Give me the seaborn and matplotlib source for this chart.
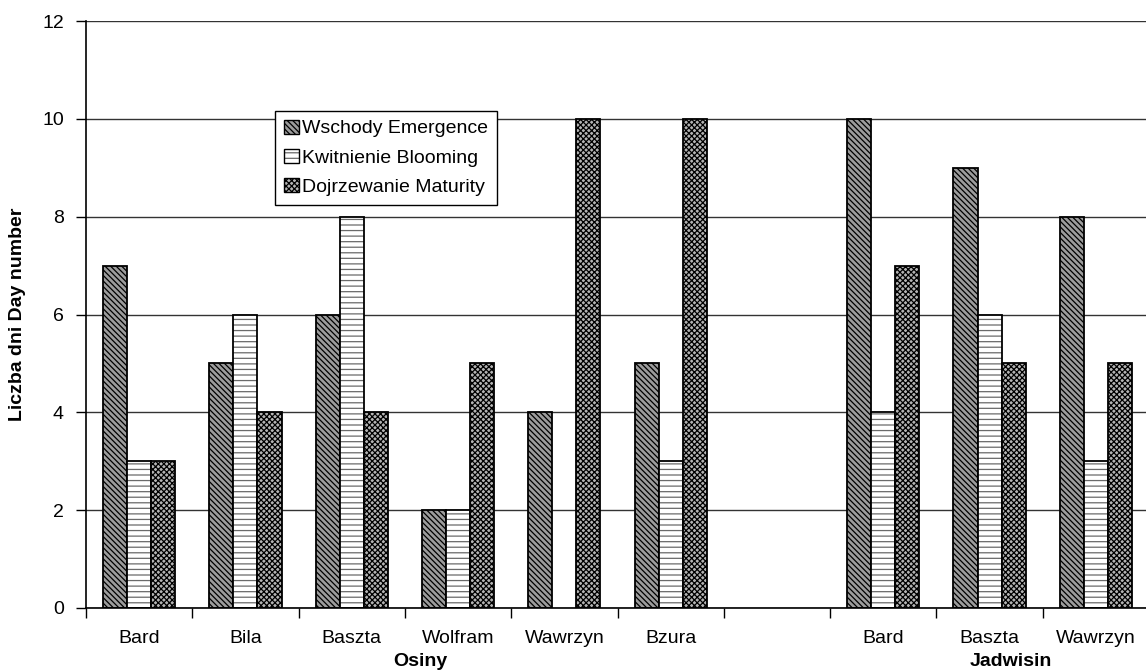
import matplotlib
matplotlib.use("Agg")
import matplotlib.pyplot as plt
import matplotlib.colors as mcolors
from matplotlib.patches import Patch
from matplotlib.ticker import FixedLocator, NullFormatter
import seaborn as sns
import pandas as pd
import numpy as np

# Cultivars per location; the empty slot separates the two locations
site_keys = ["O-Bard", "O-Bila", "O-Baszta", "O-Wolfram", "O-Wawrzyn", "O-Bzura",
             "gap", "J-Bard", "J-Baszta", "J-Wawrzyn"]
site_labels = ["Bard", "Bila", "Baszta", "Wolfram", "Wawrzyn", "Bzura",
               "", "Bard", "Baszta", "Wawrzyn"]
phases = ["Wschody Emergence", "Kwitnienie Blooming", "Dojrzewanie Maturity"]

# Day numbers per phase (None = no value)
emergence = [7, 5, 6, 2, 4, 5, None, 10, 9, 8]
blooming = [3, 6, 8, 2, None, 3, None, 4, 6, 3]
maturity = [3, 4, 4, 5, 10, 10, None, 7, 5, 5]

groups = ["Osiny", "Jadwisin"]
group_x = [2.65, 8.2]

rows = []
for ph, vals in zip(phases, [emergence, blooming, maturity]):
    for key, v in zip(site_keys, vals):
        if v is not None:
            rows.append({"site": key, "phase": ph, "days": v})
df = pd.DataFrame(rows)

sns.set_theme(style="white")
plt.rcParams["font.family"] = ["Liberation Sans", "DejaVu Sans"]
plt.rcParams["hatch.linewidth"] = 0.9
plt.rcParams["text.color"] = "black"
plt.rcParams["xtick.color"] = "black"
plt.rcParams["ytick.color"] = "black"
plt.rcParams["axes.labelcolor"] = "black"

FS = 14

fig = plt.figure(figsize=(11.46, 6.71), dpi=100)
ax = fig.add_axes([86 / 1146, 63 / 671, 1063 / 1146, 587 / 671])

ax.set_axisbelow(True)
ax.yaxis.grid(True, color="#333333", linewidth=1.0)

sns.barplot(data=df, x="site", y="days", hue="phase", order=site_keys,
            hue_order=phases, width=0.68, ax=ax, legend=False,
            edgecolor="black", linewidth=1.3, saturation=1)

styles = [
    {"facecolor": "#9c9c9c", "hatch": "\\\\\\\\\\\\", "hcolor": "black"},
    {"facecolor": "white", "hatch": "---", "hcolor": "#6a6a6a"},
    {"facecolor": "#b4b4b4", "hatch": "xxxxxx", "hcolor": "black"},
]


def style_patch(p, st):
    p.set_facecolor(st["facecolor"])
    p.set_hatch(st["hatch"])
    p.set_edgecolor("black")
    p._hatch_color = mcolors.to_rgba(st["hcolor"])


for cont, st in zip(ax.containers, styles):
    for bar in cont:
        style_patch(bar, st)

ax.set_xlim(-0.5, len(site_keys) - 0.5)
ax.set_ylim(0, 12)
ax.set_yticks(np.arange(0, 13, 2))
ax.tick_params(axis="y", which="major", length=7, width=1, direction="out",
               pad=9, labelsize=FS, color="black", left=True)

ax.set_xticks(range(len(site_keys)))
ax.set_xticklabels(site_labels)
ax.xaxis.set_minor_locator(FixedLocator(np.arange(-0.5, len(site_keys), 1.0)))
ax.xaxis.set_minor_formatter(NullFormatter())
ax.tick_params(axis="x", which="major", length=0, pad=16, labelsize=FS)
ax.tick_params(axis="x", which="minor", length=7, width=1, direction="out",
               color="black", bottom=True)

for side in ["top", "right"]:
    ax.spines[side].set_visible(False)
for side in ["left", "bottom"]:
    ax.spines[side].set_color("black")
    ax.spines[side].set_linewidth(1.2)

ax.set_xlabel("")
ax.set_ylabel("")
fig.text(18 / 1146, 1 - 314 / 671, "Liczba dni Day number", rotation=90,
         ha="center", va="center", fontsize=FS, fontweight="bold")

trans = matplotlib.transforms.blended_transform_factory(ax.transData, ax.transAxes)
for name, gx in zip(groups, group_x):
    ax.text(gx, -0.091, name, transform=trans, ha="center", va="center",
            fontsize=FS, fontweight="bold")

handles = []
for st, ph in zip(styles, phases):
    h = Patch(facecolor=st["facecolor"], hatch=st["hatch"], edgecolor="black",
              linewidth=1.0, label=ph)
    handles.append(h)
leg = ax.legend(handles=handles, loc="upper left", bbox_to_anchor=(0.178, 0.847),
                fontsize=FS, frameon=True, fancybox=False, handlelength=0.75,
                handleheight=0.75, handletextpad=0.2, borderpad=0.45,
                labelspacing=0.58, borderaxespad=0)
leg.get_frame().set_edgecolor("black")
leg.get_frame().set_linewidth(1.0)
leg.get_frame().set_alpha(1)
for lh, st in zip(leg.legend_handles, styles):
    lh._hatch_color = mcolors.to_rgba(st["hcolor"])

fig.savefig("out.png", dpi=100)
